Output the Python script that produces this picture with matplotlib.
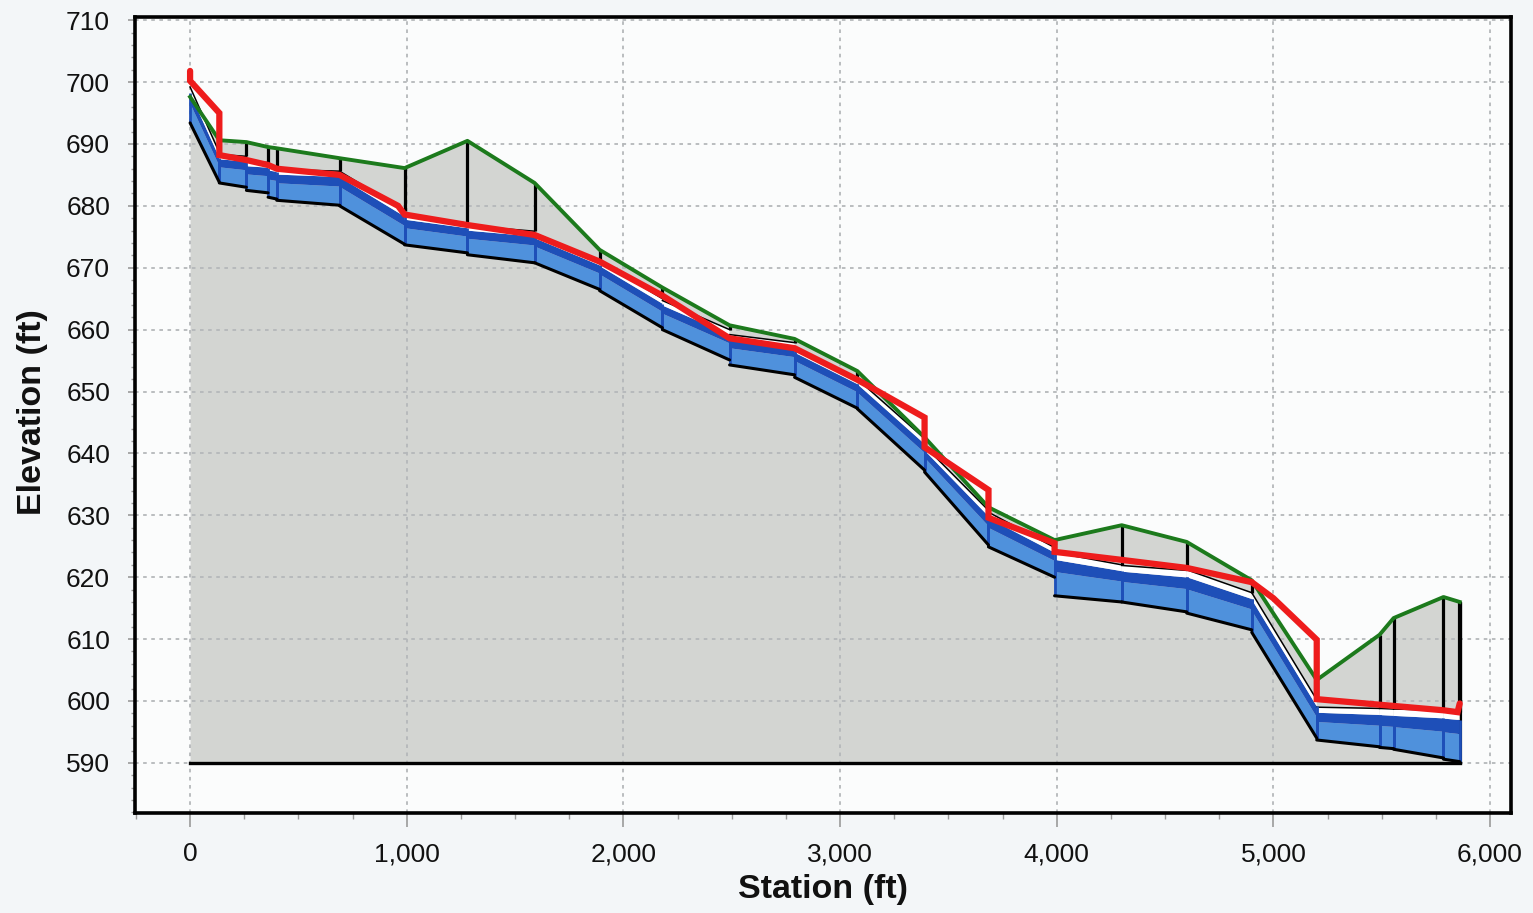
import matplotlib
matplotlib.use("Agg")
import matplotlib.pyplot as plt
from matplotlib.ticker import MultipleLocator, FuncFormatter

# ---- profile data -------------------------------------------------------
# manhole stations (ft) and ground elevations (ft)
node_station = [0, 135, 260, 360, 400, 690, 990, 1280, 1590, 1890, 2180, 2490,
                2790, 3080, 3390, 3685, 3990, 4300, 4600, 4900, 5200, 5490,
                5555, 5785, 5860]
ground_elev = [697.6, 690.6, 690.3, 689.5, 689.3, 687.7, 686.1, 690.5, 683.7,
               672.9, 666.8, 660.7, 658.5, 653.3, 642.6, 631.3, 626.0, 628.4,
               625.7, 619.5, 603.4, 610.7, 613.4, 616.8, 616.0]

# conduits between consecutive manholes: invert and crown, upstream / downstream
invert_up = [693.4, 683.7, 682.5, 681.4, 680.9, 680.0, 673.7, 672.1, 670.8,
             666.3, 660.0, 654.3, 652.3, 647.2, 637.0, 624.9, 617.0, 616.0,
             614.2, 611.1, 593.7, 592.5, 592.2, 590.6]
invert_dn = [683.8, 683.0, 682.1, 681.1, 680.1, 673.8, 672.4, 670.8, 666.5,
             660.3, 655.1, 652.7, 647.3, 637.3, 625.2, 620.0, 616.0, 614.4,
             611.5, 594.0, 592.6, 592.3, 590.8, 590.2]
crown_up = [699.2, 688.3, 687.2, 686.6, 685.9, 685.6, 678.6, 676.8, 675.6,
            671.1, 664.7, 659.2, 657.1, 652.0, 641.2, 630.5, 624.0, 621.9,
            621.2, 617.5, 599.0, 598.8, 598.7, 598.5]
crown_dn = [688.6, 688.0, 687.0, 686.4, 685.6, 679.2, 677.2, 675.9, 671.2,
            665.0, 660.0, 657.9, 652.0, 642.4, 630.8, 624.8, 622.0, 621.1,
            617.5, 600.2, 598.8, 598.7, 598.5, 598.3]

# hydraulic grade line (station, elevation)
hgl_station = [0, 0, 135, 135, 260, 360, 400, 690, 960, 990, 1280, 1590, 1890,
               2180, 2490, 2790, 3080, 3390, 3390, 3685, 3685, 3990, 3990, 4300,
               4600, 4900, 5000, 5200, 5200, 5490, 5785, 5850, 5860]
hgl_elev = [701.8, 700.2, 695.0, 688.2, 687.4, 686.6, 686.0, 685.0, 680.0,
            678.6, 676.9, 675.3, 671.0, 665.5, 658.6, 657.0, 651.9, 645.8,
            641.0, 634.1, 629.6, 625.5, 624.1, 622.8, 621.5, 619.2, 616.6,
            609.9, 600.3, 599.4, 598.5, 598.2, 599.6]

datum_elev = 590.0

x_ticks = [0, 1000, 2000, 3000, 4000, 5000, 6000]
y_ticks = [590, 600, 610, 620, 630, 640, 650, 660, 670, 680, 690, 700, 710]

# ---- colours -------------------------------------------------------------
C_FILL = "#d3d5d2"
C_GREEN = "#1c7a1c"
C_RED = "#ee1c1c"
C_LIGHT = "#4f91dc"
C_DARK = "#1e4fb8"
C_GRID = "#b5b8ba"

plt.rcParams["font.family"] = ["Liberation Sans", "DejaVu Sans"]

fig = plt.figure(figsize=(15.33, 9.13), dpi=100, facecolor="#f3f6f8")
ax = fig.add_axes([0.0881, 0.1095, 0.8976, 0.8718], facecolor="#fbfcfc")

# ground / soil area down to the datum
ax.fill_between(node_station, datum_elev, ground_elev, color=C_FILL,
                linewidth=0, zorder=1)

# manhole shafts from conduit crown up to ground
for i, s in enumerate(node_station):
    tops = []
    if i > 0:
        tops.append(crown_dn[i - 1])
    if i < len(crown_up):
        tops.append(crown_up[i])
    base = max(tops)
    if ground_elev[i] > base:
        ax.plot([s, s], [base, ground_elev[i]], color="black", lw=2.3,
                solid_capstyle="butt", zorder=3)
# end wall of the last structure
ax.plot([node_station[-1]] * 2, [datum_elev, ground_elev[-1]], color="black",
        lw=3.0, solid_capstyle="butt", zorder=3)

# conduits, shaded as cylinders
bands = [(0.0, 0.55, C_LIGHT), (0.55, 0.83, C_DARK), (0.83, 1.0, "white")]
for i in range(len(invert_up)):
    x0, x1 = node_station[i], node_station[i + 1]
    i0, i1 = invert_up[i], invert_dn[i]
    h0, h1 = crown_up[i] - i0, crown_dn[i] - i1
    for fa, fb, col in bands:
        ax.fill([x0, x1, x1, x0],
                [i0 + fa * h0, i1 + fa * h1, i1 + fb * h1, i0 + fb * h0],
                color=col, linewidth=0, zorder=4)
    ax.plot([x0, x1], [crown_up[i], crown_dn[i]], color="black", lw=1.1,
            zorder=4.2)
    for xe, ie, he in ((x0, i0, h0), (x1, i1, h1)):
        ax.plot([xe, xe], [ie, ie + 0.83 * he], color=C_DARK, lw=2.0,
                solid_capstyle="butt", zorder=4.3)
    ax.plot([x0, x1], [i0, i1], color="black", lw=2.2,
            solid_capstyle="round", zorder=4.4)

# datum line
ax.plot([node_station[0], node_station[-1]], [datum_elev, datum_elev],
        color="black", lw=2.4, zorder=4.5)

# ground line and hydraulic grade line
ax.plot(node_station, ground_elev, color=C_GREEN, lw=2.8, zorder=5)
ax.plot(hgl_station, hgl_elev, color=C_RED, lw=4.5, solid_joinstyle="miter",
        solid_capstyle="round", zorder=6)

# ---- axes styling ---------------------------------------------------------
ax.set_xlim(-254, 6097)
ax.set_ylim(581.9, 710.5)
ax.set_xticks(x_ticks)
ax.set_yticks(y_ticks)
ax.xaxis.set_minor_locator(MultipleLocator(250))
ax.yaxis.set_minor_locator(MultipleLocator(2))
ax.xaxis.set_major_formatter(FuncFormatter(lambda v, p: f"{int(v):,}"))

ax.set_axisbelow(False)
ax.grid(True, which="major", color=C_GRID, linestyle=(0, (2, 2.5)), lw=1.3)

ax.tick_params(axis="x", which="major", direction="out", length=10, width=1.2,
               color="#9a9a9a", pad=11, labelsize=19, labelcolor="#111111")
ax.tick_params(axis="x", which="minor", direction="out", length=4, width=1.0,
               color="#9a9a9a")
ax.tick_params(axis="y", which="major", direction="out", length=5, width=1.2,
               color="#9a9a9a", pad=13, labelsize=19, labelcolor="#111111")
ax.tick_params(axis="y", which="minor", direction="out", length=3, width=1.0,
               color="#9a9a9a")

for side in ("left", "bottom", "top", "right"):
    ax.spines[side].set_color("black")
    ax.spines[side].set_linewidth(2.6)
    ax.spines[side].set_zorder(10)

fig.text(0.0215, 0.549, "Elevation (ft)", rotation=90, ha="center",
         va="center", fontsize=24.5, fontweight="bold", color="#111111")
fig.text(0.537, 0.026, "Station (ft)", ha="center", va="center",
         fontsize=24.5, fontweight="bold", color="#111111")

fig.savefig("out.png", dpi=100, facecolor=fig.get_facecolor())
